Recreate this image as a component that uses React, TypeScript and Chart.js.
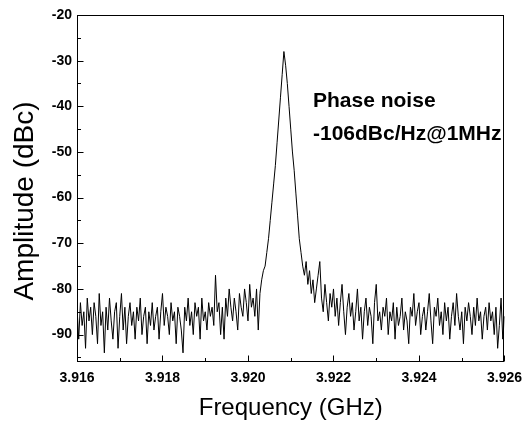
import React, { useEffect, useRef } from "react";
import { Chart, registerables } from "chart.js";

Chart.register(...registerables);

// Frequency sampling of the trace (GHz)
const FREQ_START_GHZ = 3.916;
const FREQ_STEP_GHZ = 0.00004;

// Amplitude (dBc), one value per frequency sample
const AMPLITUDE_DBC: number[] = [
  -84, -91, -83, -88, -85, -93, -82, -87, -84, -90,
  -83, -86, -92, -81, -88, -85, -94, -84, -89, -82,
  -87, -91, -85, -83, -93, -86, -81, -89, -84, -92,
  -86, -83, -88, -85, -91, -84, -87, -82, -90, -86,
  -84, -92, -85, -88, -83, -89, -86, -84, -91, -85,
  -81, -88, -84, -86, -90, -83, -87, -85, -92, -84,
  -86, -89, -94, -84, -87, -82, -88, -85, -90, -83,
  -86, -84, -91, -82, -87, -85, -89, -83, -86, -84,
  -88, -77, -85, -83, -90, -84, -91, -82, -86, -80,
  -84, -87, -82, -85, -89, -81, -84, -86, -80, -83,
  -87, -79, -84, -82, -86, -80, -89, -81, -78, -76,
  -75, -72, -69, -65, -61, -57, -53, -48, -43, -38,
  -33, -28, -31, -35, -40, -45, -50, -54, -59, -64,
  -69, -72, -75, -77, -74, -79, -76, -81, -78, -83,
  -80, -77, -74, -82, -85, -79, -83, -87, -81, -84,
  -80, -86, -82, -88, -83, -79, -85, -90, -84, -81,
  -86, -83, -89, -85, -80, -87, -84, -91, -85, -82,
  -88, -84, -86, -92, -83, -79, -87, -85, -89, -84,
  -86, -82, -90, -85, -87, -83, -91, -84, -88, -86,
  -82, -89, -85, -87, -92, -84, -86, -81, -88, -85,
  -83, -90, -86, -84, -89, -85, -81, -87, -92, -84,
  -86, -82, -88, -85, -90, -83, -87, -84, -91, -86,
  -83, -88, -81, -86, -89, -85, -92, -84, -87, -83,
  -86, -90, -84, -88, -82, -87, -85, -91, -86, -84,
  -89, -83, -87, -85, -90, -84, -93, -88, -82, -91,
  -86,
];

const X_MIN = 3.916;
const X_MAX = 3.926;
const X_TICKS = [3.916, 3.918, 3.92, 3.922, 3.924, 3.926];
const X_MINOR_TICKS = [3.917, 3.919, 3.921, 3.923, 3.925];
const Y_MIN = -96;
const Y_MAX = -20;
const Y_TICKS = [-90, -80, -70, -60, -50, -40, -30, -20];
const Y_MINOR_TICKS = [-95, -85, -75, -65, -55, -45, -35, -25];

const X_TITLE = "Frequency (GHz)";
const Y_TITLE = "Amplitude (dBc)";
const NOTE_LINES = ["Phase noise", "-106dBc/Hz@1MHz"];

const FONT = '"Liberation Sans", Arial, Helvetica, sans-serif';

const framePlugin = {
  id: "frameAndText",
  afterDraw(chart: any) {
    const { ctx, chartArea, scales } = chart;
    const { left, right, top, bottom } = chartArea;
    const xs = scales.x;
    const ys = scales.y;
    ctx.save();
    ctx.strokeStyle = "#000";
    ctx.lineWidth = 1;
    ctx.strokeRect(Math.round(left) + 0.5, Math.round(top) + 0.5, Math.round(right - left) - 1, Math.round(bottom - top) - 1);
    ctx.beginPath();
    const b = Math.round(bottom) - 0.5;
    const l = Math.round(left) + 0.5;
    X_TICKS.forEach((v) => {
      const px = Math.round(xs.getPixelForValue(v)) + 0.5;
      ctx.moveTo(px, b);
      ctx.lineTo(px, b - 6);
    });
    X_MINOR_TICKS.forEach((v) => {
      const px = Math.round(xs.getPixelForValue(v)) + 0.5;
      ctx.moveTo(px, b);
      ctx.lineTo(px, b - 3.5);
    });
    Y_TICKS.forEach((v) => {
      const py = Math.round(ys.getPixelForValue(v)) + 0.5;
      ctx.moveTo(l, py);
      ctx.lineTo(l + 6, py);
    });
    Y_MINOR_TICKS.forEach((v) => {
      const py = Math.round(ys.getPixelForValue(v)) + 0.5;
      ctx.moveTo(l, py);
      ctx.lineTo(l + 3.5, py);
    });
    ctx.stroke();

    ctx.fillStyle = "#000";
    // x axis title
    ctx.font = `24px ${FONT}`;
    ctx.textAlign = "center";
    ctx.textBaseline = "middle";
    ctx.fillText(X_TITLE, (left + right) / 2, 408);
    // y axis title
    ctx.save();
    ctx.translate(25, 201);
    ctx.rotate(-Math.PI / 2);
    ctx.font = `28px ${FONT}`;
    ctx.fillText(Y_TITLE, 0, 0);
    ctx.restore();
    // annotation
    ctx.font = `bold 21px ${FONT}`;
    ctx.textAlign = "left";
    ctx.textBaseline = "alphabetic";
    ctx.fillText(NOTE_LINES[0], 313, 107);
    ctx.fillText(NOTE_LINES[1], 313, 140);
    ctx.restore();
  },
};

export default function App() {
  const canvasRef = useRef<HTMLCanvasElement | null>(null);

  useEffect(() => {
    if (!canvasRef.current) return;
    const points = AMPLITUDE_DBC.map((y, i) => ({
      x: +(FREQ_START_GHZ + i * FREQ_STEP_GHZ).toFixed(5),
      y,
    }));
    const chart = new Chart(canvasRef.current, {
      type: "line",
      data: {
        datasets: [
          {
            data: points,
            borderColor: "#000",
            borderWidth: 1,
            pointRadius: 0,
            tension: 0,
            fill: false,
          },
        ],
      },
      options: {
        responsive: false,
        maintainAspectRatio: false,
        animation: false,
        layout: { padding: { top: 15, right: 23, left: 0, bottom: 0 } },
        plugins: { legend: { display: false }, tooltip: { enabled: false } },
        scales: {
          x: {
            type: "linear",
            min: X_MIN,
            max: X_MAX,
            grid: { display: false, drawTicks: false },
            border: { display: false },
            afterBuildTicks: (s: any) => {
              s.ticks = X_TICKS.map((v) => ({ value: v }));
            },
            afterFit: (s: any) => {
              s.height = 65;
            },
            ticks: {
              autoSkip: false,
              maxRotation: 0,
              padding: 8,
              color: "#000",
              font: { family: FONT, size: 14, weight: "bold" },
              callback: (v: any) => Number(v).toFixed(3),
            },
          },
          y: {
            type: "linear",
            min: Y_MIN,
            max: Y_MAX,
            grid: { display: false, drawTicks: false },
            border: { display: false },
            afterBuildTicks: (s: any) => {
              s.ticks = Y_TICKS.map((v) => ({ value: v }));
            },
            afterFit: (s: any) => {
              s.width = 77;
            },
            ticks: {
              autoSkip: false,
              padding: 5,
              color: "#000",
              font: { family: FONT, size: 14, weight: "bold" },
              callback: (v: any) => String(v),
            },
          },
        },
      },
      plugins: [framePlugin],
    });
    return () => chart.destroy();
  }, []);

  return (
    <div style={{ position: "absolute", left: 0, top: 0, width: 530, height: 427, background: "#fff" }}>
      <canvas ref={canvasRef} width={530} height={427} style={{ display: "block" }} />
    </div>
  );
}
